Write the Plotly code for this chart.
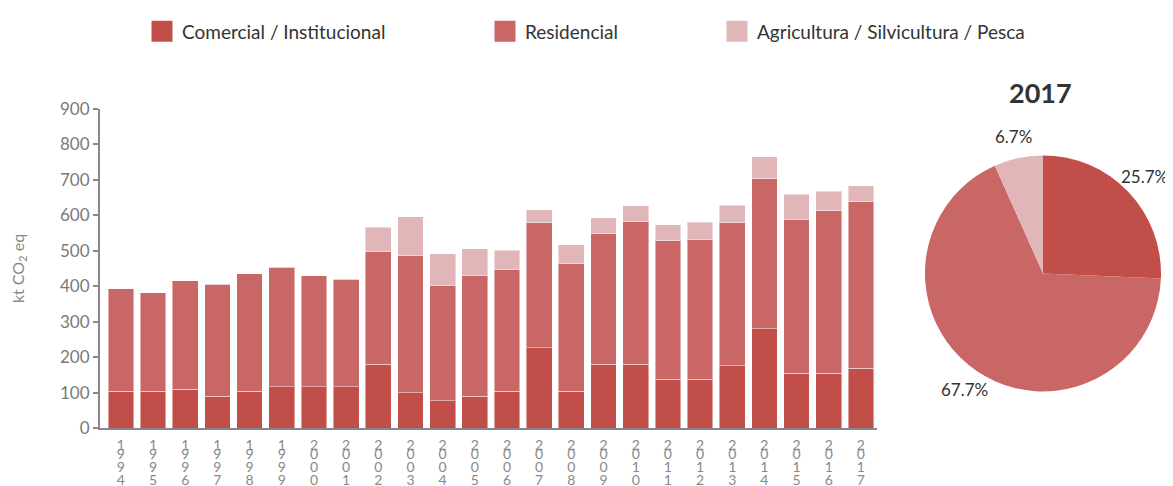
import math
import plotly.graph_objects as go

years = [str(y) for y in range(1994, 2018)]
comercial = [103, 103, 109, 90, 103, 116, 116, 116, 180, 99, 77, 90, 104, 226, 104, 180, 180, 137, 137, 175, 280, 155, 155, 169]
residencial = [290, 279, 307, 316, 332, 337, 314, 303, 317, 387, 325, 340, 343, 353, 359, 368, 402, 392, 395, 404, 423, 433, 458, 469]
agricultura = [0, 0, 0, 0, 0, 0, 0, 0, 70, 110, 90, 76, 54, 37, 54, 45, 45, 44, 48, 50, 62, 71, 55, 46]

series_names = ["Comercial / Institucional", "Residencial", "Agricultura / Silvicultura / Pesca"]
colors = ["#C24E4A", "#C96666", "#E0B6B8"]

pie_year = "2017"
pie_pct = [25.7, 67.7, 6.7]

y_ticks = [0, 100, 200, 300, 400, 500, 600, 700, 800, 900]

# the page body has an 8px margin; positions below are given in window pixels
OFF = 8
FW, FH = 1173 - OFF, 486 - OFF


def px(sx):
    return (sx - OFF) / FW


def py(sy):
    return 1 - (sy - OFF) / FH


XDOM = [px(100), px(877)]
XRANGE = [-0.65, 23.5]
fig = go.Figure()

for name, vals, col in zip(series_names, [comercial, residencial, agricultura], colors):
    fig.add_trace(go.Bar(
        x=years, y=vals, name=name, showlegend=False,
        marker=dict(color=col, line=dict(color="rgba(255,255,255,0.45)", width=1)),
        xaxis="x", yaxis="y",
    ))

# legend entries (large square swatches)
legends = ["legend", "legend2", "legend3"]
for name, col, lg in zip(series_names, colors, legends):
    fig.add_trace(go.Scatter(
        x=[None], y=[None], mode="markers", name=name, legend=lg,
        marker=dict(symbol="square", size=16, color=col, line=dict(color=col, width=5)),
        xaxis="x", yaxis="y", hoverinfo="skip",
    ))

# empty traces so that the overlaid tick-label axes are drawn
for i in range(1, 4):
    fig.add_trace(go.Scatter(x=[None], y=[None], mode="markers", showlegend=False,
                             xaxis="x%d" % (i + 1), yaxis="y", hoverinfo="skip"))

PCX, PCY, PR = 1043, 273.4, 118
fig.add_trace(go.Pie(
    labels=series_names, values=pie_pct, sort=False, direction="clockwise", rotation=0,
    marker=dict(colors=colors, line=dict(color="white", width=0)),
    textinfo="none",
    domain=dict(x=[px(PCX - PR), px(PCX + PR)], y=[py(PCY + PR), py(PCY - PR)]),
    showlegend=False, hoverinfo="label+percent",
))

# pie percentage labels, at each slice's mid angle
annotations = [dict(
    text="<b>" + pie_year + "</b>", x=px(1040.5), y=py(92.5), xref="paper", yref="paper",
    showarrow=False, font=dict(family="Lato", size=27, color="#333333"),
    xanchor="center", yanchor="middle",
)]
tot = sum(pie_pct)
cum = 0.0
LR = 140
for v in pie_pct:
    mid = (cum + v / 2) / tot * 2 * math.pi
    cum += v
    lx = PCX + LR * math.sin(mid)
    ly = PCY - LR * math.cos(mid)
    annotations.append(dict(
        text="%.1f%%" % v, x=px(lx), y=py(ly), xref="paper", yref="paper",
        showarrow=False, font=dict(family="Lato", size=17, color="#333333"),
        xanchor="center", yanchor="middle",
    ))

tickfont_x = dict(family="Lato", size=14, color="#888888")
legfont = dict(family="Lato", size=19, color="#333333")

layout_axes = {}
# year tick labels: one character per line, each line drawn by its own overlaid axis
for i in range(4):
    chars = [y[i] for y in years]
    key = "xaxis" if i == 0 else "xaxis%d" % (i + 1)
    ax = dict(
        domain=XDOM, range=XRANGE,
        tickmode="array", tickvals=list(range(len(years))), ticktext=chars,
        tickfont=tickfont_x, ticks="", showgrid=False, zeroline=False,
        ticklabelstandoff=13 * i + 3, automargin=False, fixedrange=True,
    )
    if i == 0:
        ax.update(type="category", showline=True, linecolor="#888888", linewidth=2)
    else:
        ax.update(type="linear", overlaying="x", anchor="y", showline=False)
    layout_axes[key] = ax

LY = py(31.5)
fig.update_layout(
    width=FW, height=FH,
    margin=dict(l=0, r=0, t=0, b=0, autoexpand=False),
    paper_bgcolor="white", plot_bgcolor="white",
    barmode="stack", bargap=0.2,
    font=dict(family="Lato", color="#777777"),
    yaxis=dict(
        domain=[py(428), py(109)], range=[0, 900],
        tickmode="array", tickvals=y_ticks,
        tickfont=dict(family="Lato", size=17, color="#7a7a7a"),
        showline=True, linecolor="#888888", linewidth=2,
        ticks="outside", ticklen=5, tickcolor="#888888", tickwidth=2,
        showgrid=False, zeroline=False, automargin=False, fixedrange=True,
        title=dict(text="kt CO<sub>2</sub> eq", font=dict(family="Lato", size=16, color="#888888"), standoff=38),
    ),
    legend=dict(orientation="h", x=px(142), y=LY, xanchor="left", yanchor="middle", font=legfont, bgcolor="rgba(0,0,0,0)"),
    legend2=dict(orientation="h", x=px(485), y=LY, xanchor="left", yanchor="middle", font=legfont, bgcolor="rgba(0,0,0,0)"),
    legend3=dict(orientation="h", x=px(717), y=LY, xanchor="left", yanchor="middle", font=legfont, bgcolor="rgba(0,0,0,0)"),
    annotations=annotations,
    **layout_axes,
)

fig.write_html("out.html")
